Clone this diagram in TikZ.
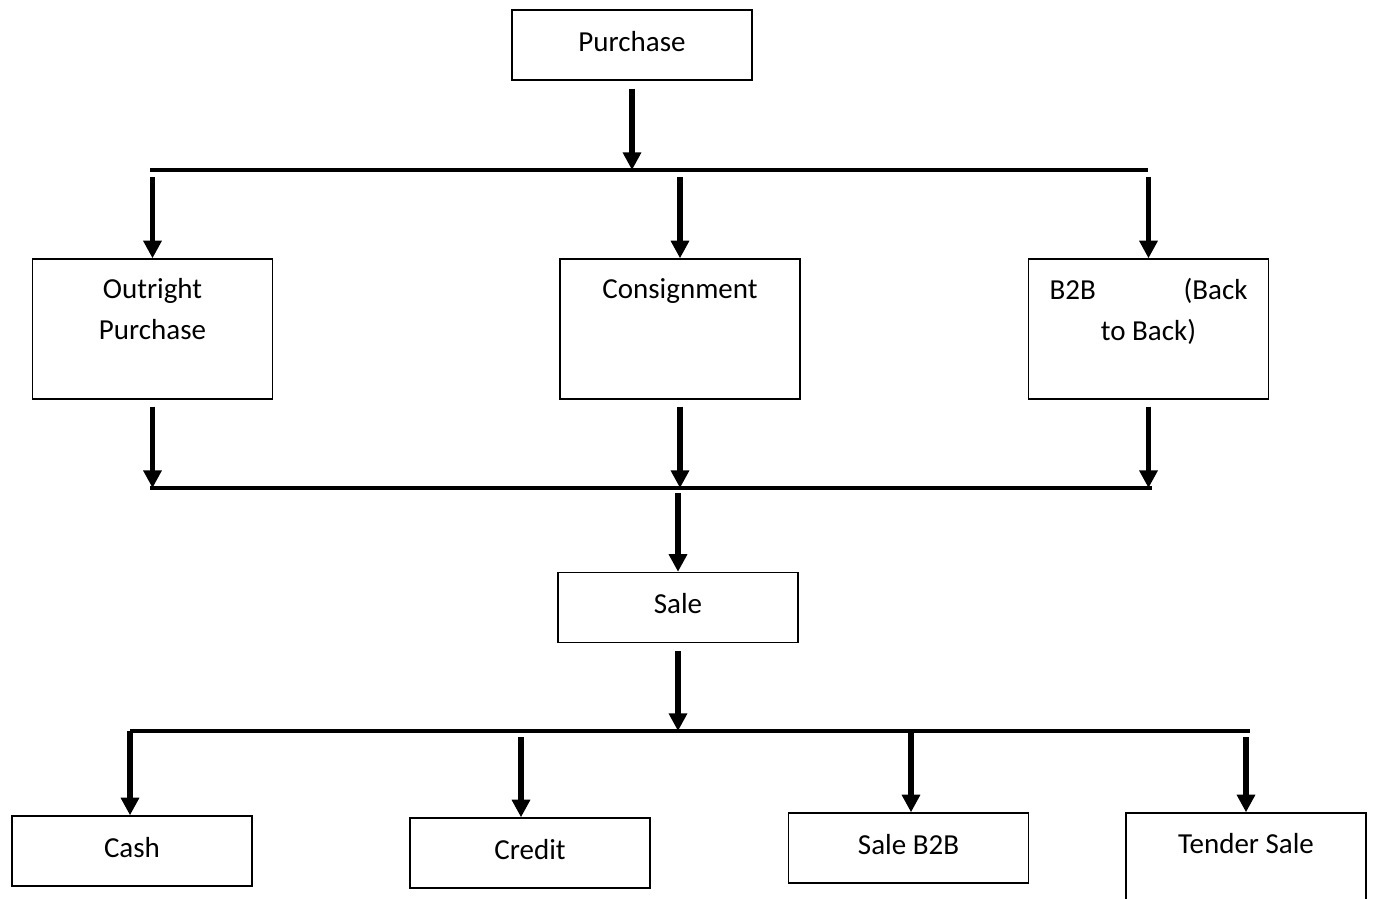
\documentclass[tikz,border=0pt]{standalone}
\usepackage{fontspec}
\setmainfont{Carlito}
\usetikzlibrary{arrows.meta, positioning}

\tikzset{
  box/.style={draw, line width=0.8pt, minimum width=4.8cm, minimum height=1.4cm,
    inner sep=0pt, text depth=4.6pt, font=\fontsize{16.5}{23.3}\selectfont},
  tallbox/.style={box, minimum height=2.8cm},
  boxtext/.style={anchor=north, inner sep=0pt, align=center, yshift=-0.4cm,
    font=\fontsize{16.5}{23.3}\selectfont},
  flow/.style={line width=3pt, -{Triangle[width=10pt,length=10pt]}},
  bar/.style={line width=2.3pt},
}

\begin{document}
\begin{tikzpicture}[x=0.02cm, y=-0.02cm]
  \useasboundingbox (0,0) rectangle (1376,899);

  % Purchase and its three kinds
  \node[box] (purchase) at (632,45) {Purchase};
  \node[tallbox, label={[boxtext]north:{Outright\\Purchase}}] (outright) at (152.5,329) {};
  \node[tallbox, label={[boxtext]north:{Consignment}}] (consign) at (680,329) {};
  \node[tallbox, label={[boxtext]north:{\makebox[3.96cm]{B2B\hfill(Back}\\to Back)}}] (b2b) at (1148.5,329) {};

  % Sale and its four kinds
  \node[box] (sale) at (678,607.5) {Sale};
  \node[box] (cash) at (132,851) {Cash};
  \node[box] (credit) at (530,853) {Credit};
  \node[box] (saleb2b) at (908.5,848) {Sale B2B};
  \node[box, minimum height=2cm, label={[boxtext, yshift=-0.02cm]north:{Tender Sale}}] (tender) at (1246,863) {};

  % Bars
  \coordinate (bar1w) at (150,170);
  \coordinate (bar1e) at (1148,170);
  \coordinate (bar2w) at (150,488);
  \coordinate (bar2e) at (1152,488);
  \coordinate (bar3w) at (130,731);
  \coordinate (bar3e) at (1250,731);
  \draw[bar] (bar1w) -- (bar1e);
  \draw[bar, line width=1.9pt] (bar2w) -- (bar2e);
  \draw[bar, line width=2.8pt] (bar3w) -- (bar3e);

  % Purchase branch
  \draw[flow, shorten <=0.16cm] (purchase.south) -- (purchase.south |- bar1w);
  \foreach \n in {outright, consign, b2b} {
    \draw[flow, shorten <=0.14cm] (\n.north |- bar1w) -- (\n.north);
    \draw[flow, shorten <=0.14cm] (\n.south) -- (\n.south |- bar2w);
  }

  % Sale branch
  \draw[flow, shorten <=0.1cm] (sale.north |- bar2w) -- (sale.north);
  \draw[flow, shorten <=0.16cm] (sale.south) -- (sale.south |- bar3w);
  \coordinate (t1) at (130,731);
  \coordinate (t2) at (521,731);
  \coordinate (t3) at (911,731);
  \coordinate (t4) at (1246,731);
  \draw[flow] (t1) -- (t1 |- cash.north);
  \draw[flow, shorten <=0.12cm] (t2) -- (t2 |- credit.north);
  \draw[flow] (t3) -- (t3 |- saleb2b.north);
  \draw[flow, shorten <=0.12cm] (t4) -- (t4 |- tender.north);
\end{tikzpicture}
\end{document}
